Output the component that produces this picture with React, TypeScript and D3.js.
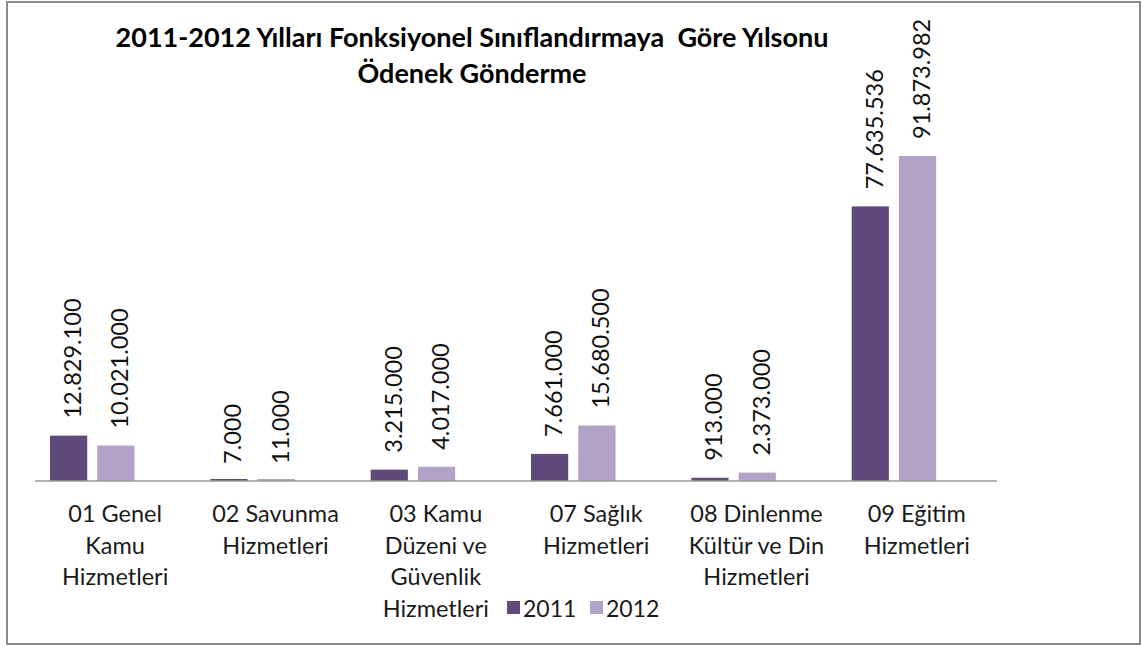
import React, { useEffect } from "react";
import * as d3 from "d3";

const categories = [
  "01 Genel Kamu Hizmetleri",
  "02 Savunma Hizmetleri",
  "03 Kamu Düzeni ve Güvenlik Hizmetleri",
  "07 Sağlık Hizmetleri",
  "08 Dinlenme Kültür ve Din Hizmetleri",
  "09 Eğitim Hizmetleri",
];
const categoryLines = [
  ["01 Genel", "Kamu", "Hizmetleri"],
  ["02 Savunma", "Hizmetleri"],
  ["03 Kamu", "Düzeni ve", "Güvenlik", "Hizmetleri"],
  ["07 Sağlık", "Hizmetleri"],
  ["08 Dinlenme", "Kültür ve Din", "Hizmetleri"],
  ["09 Eğitim", "Hizmetleri"],
];
const seriesNames = ["2011", "2012"];
const slots = ["2011", "2012", "(boş)"];
const values2011 = [12829100, 7000, 3215000, 7661000, 913000, 77635536];
const values2012 = [10021000, 11000, 4017000, 15680500, 2373000, 91873982];
const yMax = 100000000;
const titleLines = [
  "2011-2012 Yılları Fonksiyonel Sınıflandırmaya  Göre Yılsonu",
  "Ödenek Gönderme",
];

const colors: Record<string, string> = { "2011": "#604A7B", "2012": "#B3A2C7" };
const FONT = "Lato, 'Open Sans', sans-serif";

const fmt = d3.formatLocale({
  decimal: ",",
  thousands: ".",
  grouping: [3],
  currency: ["", ""],
}).format(",d");

export default function App() {
  useEffect(() => {
    document.body.style.margin = "0";
  }, []);

  const W = 1142;
  const H = 646;
  const x0 = d3.scaleBand<string>().domain(categories).range([35, 997]).padding(0);
  const x1 = d3
    .scaleBand<string>()
    .domain(slots)
    .range([15, 146.8])
    .paddingInner(0.213)
    .paddingOuter(0);
  const y = d3.scaleLinear().domain([0, yMax]).range([481, 127.25]);
  const seriesValues: Record<string, number[]> = { "2011": values2011, "2012": values2012 };

  return (
    <svg
      width={W}
      height={H}
      style={{ position: "absolute", left: 0, top: 0, display: "block", background: "#fff" }}
      fontFamily={FONT}
    >
      <rect x={7} y={2} width={1133} height={642} fill="#fff" stroke="#8a8a8a" strokeWidth={2} />

      {titleLines.map((t, i) => (
        <text
          key={i}
          x={472}
          y={47 + i * 36}
          textAnchor="middle"
          fontWeight="bold"
          fontSize={27}
          fill="#000"
          style={{ whiteSpace: "pre" }}
        >
          {t}
        </text>
      ))}

      {categories.map((c, ci) =>
        seriesNames.map((s) => {
          const v = seriesValues[s][ci];
          const bx = (x0(c) as number) + (x1(s) as number);
          const bw = x1.bandwidth();
          const top = Math.min(y(v), y(0) - 2);
          const cx = bx + bw / 2;
          return (
            <g key={c + s}>
              <rect x={bx} y={top} width={bw} height={y(0) - top} fill={colors[s]} />
              <text
                transform={`translate(${cx + 12.5},${y(v) - 17}) rotate(-90)`}
                fontSize={23.5}
                fill="#111"
              >
                {fmt(v)}
              </text>
            </g>
          );
        })
      )}

      <line x1={35} x2={997} y1={481} y2={481} stroke="#9a9a9a" strokeWidth={1.5} />

      {categories.map((c, ci) => (
        <text
          key={c}
          x={(x0(c) as number) + x0.bandwidth() / 2}
          y={522}
          textAnchor="middle"
          fontSize={23.5}
          fill="#1a1a1a"
        >
          {categoryLines[ci].map((line, li) => (
            <tspan key={li} x={(x0(c) as number) + x0.bandwidth() / 2} y={522 + li * 31.7}>
              {line}
            </tspan>
          ))}
        </text>
      ))}

      {seriesNames.map((s, i) => {
        const lx = 507 + i * 83;
        return (
          <g key={s}>
            <rect x={lx} y={601} width={13} height={13} fill={colors[s]} />
            <text x={lx + 16} y={617} fontSize={23} fill="#1a1a1a">
              {s}
            </text>
          </g>
        );
      })}
    </svg>
  );
}
